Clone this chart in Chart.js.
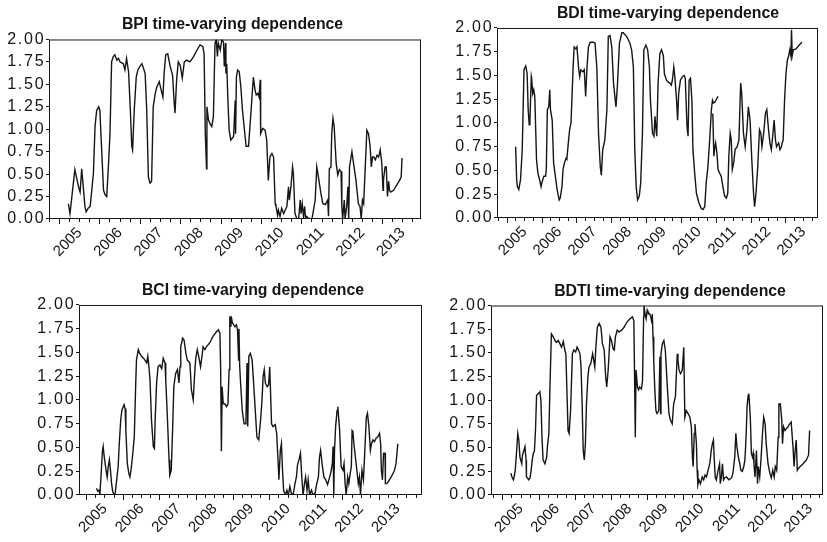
<!DOCTYPE html>
<html>
<head>
<meta charset="utf-8">
<title>Time-varying dependence</title>
<script src="https://cdn.jsdelivr.net/npm/chart.js@4/dist/chart.umd.min.js"></script>
<style>
  html, body { margin: 0; padding: 0; background: #fff; width: 827px; height: 542px; overflow: hidden; position: relative; }
  canvas { position: absolute; }
</style>
</head>
<body>
<canvas id="bpi"></canvas>
<canvas id="bdi"></canvas>
<canvas id="bci"></canvas>
<canvas id="bdti"></canvas>
<script>
// Year ticks shared by every panel, and the dependence axis ticks
const YEARS = [2005, 2006, 2007, 2008, 2009, 2010, 2011, 2012, 2013];
const Y_TICKS = [0, 0.25, 0.5, 0.75, 1, 1.25, 1.5, 1.75, 2];

// BPI
const BPI_DATES = [
  2005.22,2005.26,2005.38,2005.47,2005.51,2005.55,2005.63,2005.66,2005.71,2005.76,
  2005.84,2005.88,2005.92,2005.97,2006.00,2006.04,2006.09,2006.13,2006.17,2006.21,
  2006.25,2006.29,2006.33,2006.37,2006.42,2006.46,2006.50,2006.58,2006.62,2006.66,
  2006.71,2006.75,2006.79,2006.81,2006.85,2006.90,2006.94,2006.99,2007.04,2007.08,
  2007.12,2007.16,2007.20,2007.24,2007.28,2007.32,2007.37,2007.41,2007.47,2007.51,
  2007.56,2007.59,2007.63,2007.68,2007.74,2007.80,2007.84,2007.86,2007.90,2007.94,
  2007.99,2008.04,2008.09,2008.15,2008.23,2008.32,2008.40,2008.48,2008.55,2008.58,
  2008.61,2008.64,2008.65,2008.69,2008.73,2008.77,2008.81,2008.85,2008.88,2008.91,
  2008.93,2008.98,2009.02,2009.06,2009.08,2009.11,2009.12,2009.14,2009.17,2009.20,
  2009.24,2009.31,2009.35,2009.36,2009.38,2009.41,2009.45,2009.49,2009.53,2009.57,
  2009.62,2009.68,2009.72,2009.76,2009.80,2009.84,2009.87,2009.91,2009.94,2009.97,
  2009.98,2010.03,2010.09,2010.13,2010.17,2010.21,2010.26,2010.30,2010.34,2010.36,
  2010.40,2010.42,2010.46,2010.50,2010.55,2010.59,2010.63,2010.67,2010.69,2010.73,
  2010.77,2010.79,2010.83,2010.88,2010.92,2010.96,2010.98,2011.01,2011.04,2011.07,
  2011.09,2011.12,2011.16,2011.25,2011.33,2011.37,2011.41,2011.47,2011.52,2011.58,
  2011.64,2011.66,2011.68,2011.72,2011.74,2011.77,2011.80,2011.85,2011.89,2011.93,
  2011.97,2011.99,2012.01,2012.05,2012.07,2012.11,2012.14,2012.16,2012.18,2012.24,
  2012.28,2012.34,2012.40,2012.44,2012.47,2012.50,2012.53,2012.57,2012.61,2012.65,
  2012.69,2012.72,2012.75,2012.78,2012.82,2012.86,2012.90,2012.94,2012.98,2013.01,
  2013.02,2013.06,2013.09,2013.12,2013.15,2013.17,2013.20,2013.27,2013.35,2013.42,
  2013.46,2013.48
];
const BPI_VALUES = [
  0.17,0.06,0.55,0.36,0.30,0.56,0.14,0.08,0.12,0.14,
  0.51,1.03,1.21,1.25,1.21,0.81,0.32,0.27,0.25,0.58,
  0.95,1.75,1.81,1.83,1.77,1.79,1.75,1.73,1.66,1.79,
  1.64,1.25,0.81,0.77,1.21,1.58,1.66,1.70,1.73,1.68,
  1.62,1.21,0.47,0.40,0.42,1.25,1.40,1.47,1.53,1.45,
  1.36,1.62,1.83,1.84,1.70,1.60,1.29,1.18,1.55,1.75,
  1.71,1.57,1.75,1.77,1.75,1.81,1.88,1.94,1.92,1.84,
  0.95,0.56,1.25,1.10,1.06,1.03,1.14,1.96,2.00,1.81,
  1.96,1.88,2.00,1.97,1.70,1.96,1.62,1.73,1.32,0.99,
  0.88,0.92,1.32,0.95,1.58,1.66,1.64,1.47,1.21,1.03,
  0.81,0.81,1.06,1.32,1.58,1.44,1.38,1.40,1.36,1.55,
  0.95,1.01,0.99,0.88,0.43,0.69,0.73,0.69,0.17,0.14,
  0.04,0.10,0.03,0.12,0.06,0.10,0.14,0.36,0.21,0.36,
  0.58,0.51,0.06,0.00,0.00,0.21,0.06,0.17,0.03,0.14,
  0.01,0.03,0.01,0.00,0.21,0.58,0.47,0.29,0.17,0.16,
  0.21,0.03,0.56,0.58,0.95,1.12,1.03,0.62,0.49,0.55,
  0.53,0.14,0.00,0.21,0.00,0.14,0.36,0.00,0.58,0.75,
  0.62,0.43,0.17,0.14,0.00,0.21,0.17,0.58,0.99,0.95,
  0.81,0.58,0.69,0.69,0.66,0.71,0.69,0.77,0.62,0.32,
  0.43,0.58,0.58,0.25,0.42,0.32,0.30,0.32,0.38,0.43,
  0.47,0.68
];

// BDI (the null marks a break in the plotted line)
const BDI_DATES = [
  2005.24,2005.27,2005.29,2005.33,2005.38,2005.43,2005.48,2005.53,2005.57,2005.60,
  2005.63,2005.65,2005.69,2005.70,2005.73,2005.76,2005.79,2005.84,2005.88,2005.93,
  2005.97,2006.00,2006.05,2006.10,2006.12,2006.15,2006.19,2006.22,2006.24,2006.29,
  2006.33,2006.43,2006.49,2006.52,2006.57,2006.60,2006.64,2006.69,2006.71,2006.76,
  2006.79,2006.83,2006.89,2006.92,2006.97,2007.00,2007.05,2007.08,2007.11,2007.17,
  2007.21,2007.25,2007.29,2007.33,2007.38,2007.48,2007.52,2007.57,2007.62,2007.67,
  2007.70,2007.74,2007.80,2007.86,2007.90,2007.95,2008.00,2008.05,2008.10,2008.12,
  2008.16,2008.22,2008.29,2008.33,2008.43,2008.52,2008.57,2008.62,2008.66,2008.70,
  2008.74,2008.79,2008.83,2008.88,2008.92,2008.98,2009.03,2009.08,2009.11,2009.17,
  2009.21,2009.24,2009.27,2009.29,2009.33,2009.38,2009.43,2009.48,2009.51,2009.57,
  2009.62,2009.67,2009.71,2009.74,2009.78,2009.81,2009.86,2009.89,2009.92,2009.97,
  2010.03,2010.08,2010.11,2010.16,2010.19,2010.22,2010.26,2010.30,2010.33,2010.38,
  2010.43,2010.50,2010.57,2010.62,2010.67,2010.71,2010.76,2010.81,2010.86,2010.89,
  2010.92,2010.96,2011.05,
  2011.05,
  2010.90,2010.93,2010.96,2010.98,2011.02,2011.05,2011.10,2011.14,2011.19,2011.24,
  2011.29,2011.33,2011.36,2011.40,2011.43,2011.46,2011.50,2011.54,2011.60,2011.65,
  2011.70,2011.73,2011.78,2011.83,2011.88,2011.92,2011.97,2012.02,2012.07,2012.10,
  2012.14,2012.19,2012.24,2012.28,2012.31,2012.36,2012.41,2012.45,2012.50,2012.54,
  2012.58,2012.62,2012.66,2012.70,2012.73,2012.79,2012.83,2012.87,2012.89,2012.92,
  2012.96,2013.00,2013.04,2013.08,2013.11,2013.14,2013.16,2013.18,2013.21,2013.29,
  2013.38,2013.46
];
const BDI_VALUES = [
  0.75,0.40,0.33,0.30,0.40,0.72,1.56,1.60,1.52,1.14,
  0.98,1.03,1.49,1.47,1.31,1.35,1.28,0.61,0.47,0.40,
  0.33,0.38,0.44,0.44,0.51,1.14,1.17,1.35,1.14,1.03,
  0.58,0.30,0.19,0.21,0.33,0.51,0.58,0.63,0.62,0.82,
  0.93,1.00,1.59,1.80,1.78,1.80,1.57,1.49,1.56,1.54,
  1.56,1.28,1.59,1.80,1.85,1.85,1.84,1.59,0.89,0.54,
  0.45,0.72,0.82,1.14,1.91,1.92,1.80,1.42,1.24,1.17,
  1.38,1.84,1.95,1.95,1.91,1.84,1.77,1.59,0.72,0.33,
  0.19,0.23,0.37,0.89,1.77,1.82,1.77,1.59,1.24,0.89,
  0.86,1.07,0.93,0.86,1.42,1.73,1.77,1.71,1.52,1.45,
  1.43,1.42,1.40,1.45,1.59,1.49,1.24,1.03,1.31,1.45,
  1.49,1.50,1.47,0.96,0.86,1.45,1.47,1.24,0.72,0.47,
  0.26,0.16,0.10,0.09,0.12,0.37,0.54,0.82,1.14,1.24,
  1.21,1.22,1.28,
  null,
  1.10,0.65,0.75,0.79,0.68,0.51,0.47,0.44,0.33,0.23,
  0.21,0.26,0.65,0.89,0.82,0.51,0.58,0.72,0.75,0.82,
  1.42,1.31,0.89,0.75,0.93,1.17,1.03,0.61,0.26,0.12,
  0.26,0.54,0.93,0.89,0.75,0.89,1.10,1.14,0.93,0.79,
  0.72,0.86,1.03,0.82,0.75,0.79,0.72,0.75,0.79,0.82,
  1.24,1.52,1.66,1.71,1.77,1.71,1.98,1.71,1.77,1.78,
  1.82,1.85
];

// BCI
const BCI_DATES = [
  2005.27,2005.30,2005.34,2005.36,2005.39,2005.43,2005.45,2005.48,2005.53,2005.56,
  2005.59,2005.62,2005.65,2005.68,2005.71,2005.75,2005.78,2005.82,2005.86,2005.89,
  2005.93,2005.96,2006.02,2006.05,2006.07,2006.11,2006.15,2006.18,2006.21,2006.25,
  2006.30,2006.34,2006.36,2006.41,2006.45,2006.50,2006.55,2006.59,2006.64,2006.67,
  2006.70,2006.73,2006.77,2006.82,2006.85,2006.87,2006.91,2006.95,2007.00,2007.05,
  2007.09,2007.14,2007.16,2007.20,2007.25,2007.27,2007.31,2007.35,2007.38,2007.43,
  2007.48,2007.52,2007.55,2007.57,2007.62,2007.66,2007.71,2007.75,2007.82,2007.86,
  2007.91,2007.95,2007.98,2008.02,2008.06,2008.11,2008.15,2008.18,2008.23,2008.27,
  2008.36,2008.45,2008.55,2008.60,2008.64,2008.66,2008.68,2008.70,2008.73,2008.77,
  2008.82,2008.86,2008.89,2008.91,2008.94,2008.95,2008.98,2009.02,2009.05,2009.09,
  2009.12,2009.15,2009.16,2009.18,2009.21,2009.25,2009.30,2009.35,2009.38,2009.40,
  2009.43,2009.47,2009.52,2009.56,2009.61,2009.65,2009.70,2009.75,2009.79,2009.82,
  2009.85,2009.88,2009.93,2009.97,2010.00,2010.02,2010.05,2010.09,2010.15,2010.19,
  2010.24,2010.25,2010.29,2010.32,2010.35,2010.38,2010.43,2010.47,2010.51,2010.55,
  2010.59,2010.64,2010.69,2010.73,2010.76,2010.80,2010.84,2010.87,2010.91,2010.95,
  2010.98,2011.02,2011.05,2011.09,2011.14,2011.18,2011.24,2011.27,2011.33,2011.36,
  2011.39,2011.44,2011.48,2011.53,2011.58,2011.64,2011.68,2011.71,2011.73,2011.75,
  2011.77,2011.80,2011.84,2011.86,2011.91,2011.95,2012.00,2012.03,2012.06,2012.09,
  2012.13,2012.16,2012.20,2012.23,2012.25,2012.27,2012.30,2012.34,2012.38,2012.42,
  2012.45,2012.48,2012.52,2012.56,2012.59,2012.64,2012.67,2012.71,2012.75,2012.78,
  2012.82,2012.86,2012.91,2012.95,2013.00,2013.03,2013.05,2013.08,2013.11,2013.15,
  2013.16,2013.20,2013.24,2013.32,2013.41,2013.45,2013.50
];
const BCI_VALUES = [
  0.07,0.04,0.05,0.00,0.19,0.46,0.51,0.40,0.26,0.19,
  0.30,0.37,0.26,0.12,0.04,0.00,0.02,0.16,0.30,0.54,
  0.79,0.89,0.95,0.91,0.68,0.33,0.23,0.19,0.26,0.40,
  0.61,1.18,1.42,1.53,1.49,1.46,1.44,1.42,1.39,1.46,
  1.35,1.21,0.79,0.51,0.49,0.79,1.18,1.35,1.37,1.33,
  1.44,1.39,1.21,0.86,0.37,0.21,0.26,0.72,1.14,1.28,
  1.32,1.18,1.35,1.56,1.65,1.63,1.49,1.42,1.39,1.11,
  1.00,1.28,1.44,1.53,1.46,1.35,1.46,1.56,1.53,1.56,
  1.60,1.67,1.72,1.74,1.70,1.32,0.46,1.14,0.96,0.96,
  0.93,0.96,1.32,1.88,1.77,1.88,1.81,1.79,1.77,1.79,
  1.74,1.42,1.75,1.35,1.14,0.89,0.75,0.75,1.39,0.72,
  1.46,1.49,1.42,1.18,0.86,0.61,0.58,0.79,1.00,1.25,
  1.32,1.18,1.14,1.16,1.35,1.11,0.75,0.72,0.74,0.65,
  0.26,0.16,0.47,0.54,0.26,0.05,0.00,0.05,0.00,0.09,
  0.02,0.00,0.12,0.19,0.32,0.37,0.44,0.23,0.00,0.12,
  0.19,0.05,0.16,0.00,0.05,0.00,0.02,0.09,0.19,0.40,
  0.47,0.30,0.19,0.16,0.11,0.19,0.26,0.33,0.51,0.00,
  0.47,0.72,0.89,0.93,0.68,0.30,0.26,0.33,0.12,0.00,
  0.19,0.12,0.23,0.30,0.68,0.67,0.54,0.40,0.26,0.12,
  0.19,0.00,0.26,0.16,0.40,0.82,0.86,0.72,0.47,0.54,
  0.58,0.56,0.60,0.61,0.65,0.54,0.26,0.16,0.44,0.44,
  0.12,0.12,0.14,0.19,0.26,0.33,0.54
];

// BDTI
const BDTI_DATES = [
  2005.22,2005.25,2005.29,2005.31,2005.34,2005.38,2005.41,2005.44,2005.47,2005.52,
  2005.54,2005.58,2005.61,2005.64,2005.65,2005.68,2005.71,2005.75,2005.78,2005.81,
  2005.84,2005.87,2005.90,2005.93,2005.98,2006.02,2006.05,2006.08,2006.11,2006.16,
  2006.21,2006.23,2006.27,2006.30,2006.34,2006.39,2006.44,2006.48,2006.53,2006.57,
  2006.62,2006.67,2006.71,2006.74,2006.78,2006.80,2006.83,2006.87,2006.92,2006.96,
  2007.01,2007.05,2007.09,2007.13,2007.16,2007.19,2007.22,2007.25,2007.28,2007.31,
  2007.35,2007.38,2007.43,2007.48,2007.51,2007.54,2007.57,2007.61,2007.66,2007.71,
  2007.75,2007.80,2007.84,2007.87,2007.91,2007.96,2008.00,2008.05,2008.08,2008.11,
  2008.16,2008.21,2008.28,2008.35,2008.42,2008.51,2008.58,2008.62,2008.64,2008.66,
  2008.68,2008.72,2008.75,2008.78,2008.83,2008.86,2008.89,2008.90,2008.93,2008.96,
  2008.99,2009.01,2009.06,2009.09,2009.12,2009.13,2009.15,2009.17,2009.20,2009.23,
  2009.26,2009.31,2009.34,2009.36,2009.37,2009.41,2009.45,2009.49,2009.54,2009.59,
  2009.63,2009.68,2009.72,2009.77,2009.82,2009.84,2009.87,2009.91,2009.94,2009.96,
  2010.00,2010.03,2010.07,2010.12,2010.17,2010.21,2010.24,2010.26,2010.29,2010.31,
  2010.35,2010.37,2010.39,2010.42,2010.46,2010.51,2010.55,2010.59,2010.63,2010.67,
  2010.72,2010.76,2010.79,2010.82,2010.84,2010.87,2010.90,2010.95,2010.99,2011.01,
  2011.04,2011.07,2011.10,2011.13,2011.18,2011.25,2011.32,2011.36,2011.41,2011.44,
  2011.47,2011.51,2011.55,2011.58,2011.62,2011.66,2011.69,2011.71,2011.73,2011.75,
  2011.78,2011.80,2011.84,2011.87,2011.90,2011.92,2011.94,2011.97,2012.01,2012.04,
  2012.06,2012.10,2012.14,2012.17,2012.21,2012.25,2012.28,2012.33,2012.38,2012.42,
  2012.46,2012.50,2012.53,2012.57,2012.61,2012.63,2012.67,2012.71,2012.73,2012.76,
  2012.80,2012.84,2012.88,2012.93,2012.97,2013.02,2013.05,2013.08,2013.11,2013.14,
  2013.17,2013.22,2013.30,2013.39,2013.45,2013.48
];
const BDTI_VALUES = [
  0.23,0.19,0.16,0.19,0.26,0.47,0.65,0.58,0.40,0.33,
  0.42,0.47,0.51,0.37,0.19,0.18,0.16,0.18,0.26,0.37,
  0.44,0.46,0.68,1.05,1.07,1.09,1.00,0.61,0.37,0.33,
  0.40,0.51,0.65,1.14,1.70,1.67,1.63,1.61,1.63,1.60,
  1.56,1.62,1.53,1.49,0.96,0.68,0.65,0.89,1.49,1.53,
  1.51,1.56,1.53,1.49,1.35,0.96,0.47,0.37,0.54,0.96,
  1.25,1.35,1.39,1.49,1.42,1.35,1.56,1.77,1.81,1.77,
  1.60,1.53,1.25,1.14,1.32,1.67,1.63,1.54,1.53,1.67,
  1.74,1.72,1.74,1.77,1.82,1.86,1.88,1.84,1.25,0.61,
  1.32,1.14,1.11,1.14,1.12,1.21,1.88,2.00,1.91,1.86,
  1.95,1.93,1.91,1.88,1.81,1.91,1.67,1.42,1.11,0.89,
  0.86,0.89,1.46,0.86,1.49,1.60,1.63,1.53,1.18,0.86,
  0.79,0.75,0.96,1.04,1.49,1.42,1.32,1.28,1.30,1.32,
  1.56,0.82,0.89,0.86,0.82,0.72,0.40,0.30,0.65,0.75,
  0.54,0.26,0.11,0.16,0.12,0.19,0.16,0.21,0.19,0.26,
  0.33,0.47,0.54,0.58,0.40,0.19,0.16,0.26,0.33,0.12,
  0.19,0.33,0.16,0.18,0.19,0.16,0.18,0.23,0.40,0.65,
  0.51,0.40,0.33,0.26,0.25,0.30,0.37,0.51,0.68,0.93,
  1.05,1.07,0.82,0.44,0.40,0.44,0.33,0.19,0.47,0.12,
  0.30,0.19,0.40,0.61,0.82,0.75,0.54,0.33,0.23,0.18,
  0.26,0.19,0.30,0.26,0.61,0.96,0.96,0.79,0.54,0.72,
  0.68,0.70,0.72,0.75,0.77,0.51,0.30,0.47,0.58,0.26,
  0.28,0.30,0.33,0.37,0.42,0.68
];

// Layout of each panel on the page: plot box edges, title centre and year range
const PANELS = [
  { id: 'bpi',  title: 'BPI time-varying dependence',  dates: BPI_DATES,  values: BPI_VALUES,
    left: 49, right: 421, top: 39, bottom: 219, titleX: 232.5, titleGap: 15, xMin: 2004.74, xMax: 2013.95 },
  { id: 'bdi',  title: 'BDI time-varying dependence',  dates: BDI_DATES,  values: BDI_VALUES,
    left: 497, right: 818, top: 28, bottom: 218, titleX: 668, titleGap: 14.5, xMin: 2004.705, xMax: 2013.92 },
  { id: 'bci',  title: 'BCI time-varying dependence',  dates: BCI_DATES,  values: BCI_VALUES,
    left: 79, right: 422, top: 305, bottom: 495, titleX: 253, titleGap: 14.5, xMin: 2004.79, xMax: 2014.16 },
  { id: 'bdti', title: 'BDTI time-varying dependence', dates: BDTI_DATES, values: BDTI_VALUES,
    left: 491, right: 823, top: 305, bottom: 495, titleX: 670, titleGap: 14, xMin: 2004.67, xMax: 2013.85 }
];

const FONT = '"Liberation Sans", Arial, Helvetica, sans-serif';
const INK = '#151515';
const TITLE_SIZE = 15.8;
const X_TICK_SIZE = 15;
const Y_TICK_SIZE = 16;
const Y_TICK_SPACING = '1.8px';  // the value labels are set a little wide
const Y_AXIS_W = 48;   // room for the value labels
const X_AXIS_H = 55;   // room for the slanted year labels
const TITLE_PAD_TOP = 2;

Chart.defaults.font.family = FONT;
Chart.defaults.color = INK;

// Closed box round the plotting area
const frame = {
  id: 'frame',
  afterDatasetsDraw(chart) {
    const a = chart.chartArea;
    const ctx = chart.ctx;
    ctx.save();
    ctx.strokeStyle = INK;
    ctx.lineWidth = 1;
    ctx.strokeRect(a.left + 0.5, a.top + 0.5, a.right - a.left - 1, a.bottom - a.top - 1);
    ctx.restore();
  }
};

function quarterTicks(min, max) {
  const out = [];
  for (let k = Math.ceil(min * 4); k <= Math.floor(max * 4); k++) out.push({ value: k / 4 });
  return out;
}

// Draw a scale's labels with extra letter spacing
function spaceLabels(scale, spacing) {
  if (scale.$spaced) return;
  const base = scale.drawLabels.bind(scale);
  scale.drawLabels = area => {
    const ctx = scale.ctx;
    ctx.save();
    ctx.letterSpacing = spacing;
    base(area);
    ctx.restore();
  };
  scale.$spaced = true;
}

PANELS.forEach(p => {
  const lineH = TITLE_SIZE * 1.2;
  const padBottom = p.titleGap - lineH / 2;
  const titleBlock = TITLE_PAD_TOP + lineH + padBottom;
  const spacerW = 2 * p.titleX - p.left - p.right + Y_AXIS_W;
  const cLeft = p.left - Y_AXIS_W;
  const cTop = p.top - titleBlock;
  const cW = Math.round(p.right + spacerW - cLeft);
  const cH = Math.round(titleBlock + (p.bottom - p.top) + X_AXIS_H);

  const canvas = document.getElementById(p.id);
  canvas.width = cW;
  canvas.height = cH;
  canvas.style.left = cLeft + 'px';
  canvas.style.top = cTop + 'px';
  canvas.style.width = cW + 'px';
  canvas.style.height = cH + 'px';

  const points = p.dates.map((d, i) => ({ x: d, y: p.values[i] }));

  new Chart(canvas, {
    type: 'line',
    data: {
      datasets: [{
        data: points,
        borderColor: INK,
        borderWidth: 1.4,
        pointRadius: 0,
        tension: 0,
        fill: false,
        spanGaps: false
      }]
    },
    options: {
      responsive: false,
      animation: false,
      devicePixelRatio: 1,
      layout: { padding: 0 },
      plugins: {
        legend: { display: false },
        tooltip: { enabled: false },
        title: {
          display: true,
          text: p.title,
          color: INK,
          fullSize: true,
          font: { size: TITLE_SIZE, weight: 'bold', lineHeight: 1.2 },
          padding: { top: TITLE_PAD_TOP, bottom: padBottom }
        }
      },
      scales: {
        // long tick marks at the start of each year
        x: {
          type: 'linear', position: 'bottom', weight: 0,
          min: p.xMin, max: p.xMax,
          afterBuildTicks: s => { s.ticks = YEARS.map(v => ({ value: v })); },
          afterFit: s => { s.height = 0; },
          grid: { display: true, drawOnChartArea: false, drawTicks: true, tickLength: 5, color: INK, lineWidth: 1 },
          border: { display: false },
          ticks: { display: false }
        },
        // quarter tick marks, with the year written under the middle of its span
        xq: {
          type: 'linear', position: 'bottom', weight: 1,
          min: p.xMin, max: p.xMax,
          afterBuildTicks: s => { s.ticks = quarterTicks(p.xMin, p.xMax); },
          afterFit: s => { s.height = X_AXIS_H; },
          grid: { display: true, drawOnChartArea: false, drawTicks: true, tickLength: 3, color: INK, lineWidth: 1 },
          border: { display: false },
          ticks: {
            autoSkip: false, minRotation: 45, maxRotation: 45, padding: 2,
            font: { size: X_TICK_SIZE }, color: INK,
            callback: v => {
              const y = v - 0.5;
              return YEARS.includes(y) ? String(y) : '';
            }
          }
        },
        y: {
          type: 'linear', position: 'left',
          min: 0, max: 2,
          afterBuildTicks: s => { s.ticks = Y_TICKS.map(v => ({ value: v })); },
          afterFit: s => { s.width = Y_AXIS_W; spaceLabels(s, Y_TICK_SPACING); },
          grid: { display: true, drawOnChartArea: false, drawTicks: true, tickLength: 3, color: INK, lineWidth: 1 },
          border: { display: false },
          ticks: { font: { size: Y_TICK_SIZE }, color: INK, padding: 0.5, callback: v => v.toFixed(2) }
        },
        // empty strip on the right so the title sits where it belongs
        spacer: {
          type: 'linear', position: 'right', display: true,
          afterFit: s => { s.width = spacerW; },
          grid: { display: false },
          border: { display: false },
          ticks: { display: false }
        }
      }
    },
    plugins: [frame]
  });
});
</script>
</body>
</html>
